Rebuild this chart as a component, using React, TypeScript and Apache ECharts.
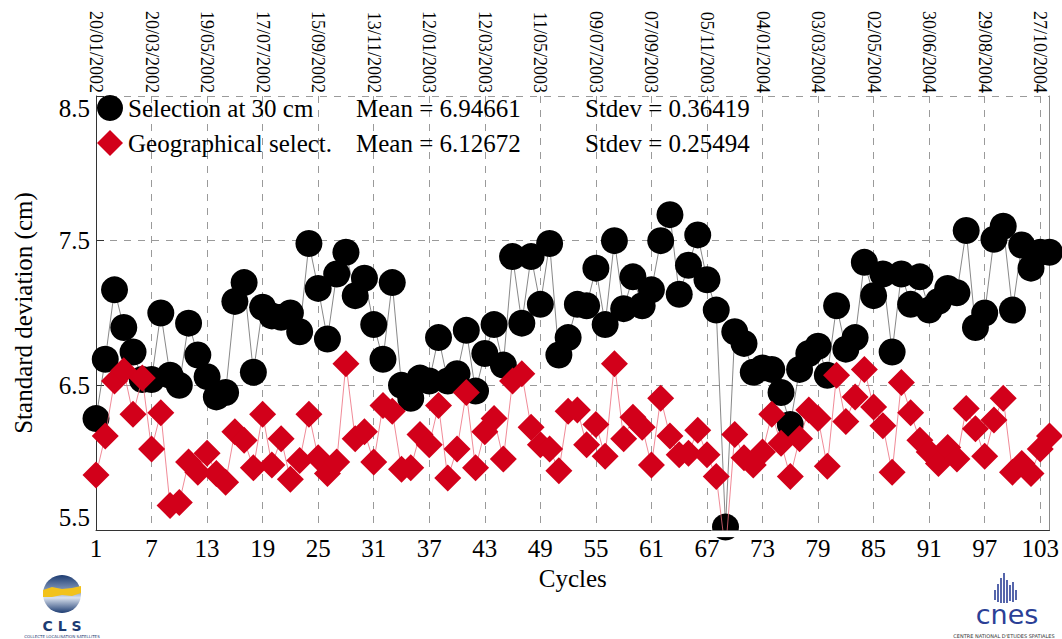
import React, { useEffect, useRef } from "react";
import * as echarts from "echarts";

const FONT = '"Liberation Serif", "Times New Roman", serif';

const seriesNames = ["Selection at 30 cm", "Geographical select."];
const means = ["6.94661", "6.12672"];
const stdevs = ["0.36419", "0.25494"];

const dateLabels = [
  "20/01/2002", "20/03/2002", "19/05/2002", "17/07/2002", "15/09/2002", "13/11/2002",
  "12/01/2003", "12/03/2003", "11/05/2003", "09/07/2003", "07/09/2003", "05/11/2003",
  "04/01/2004", "03/03/2004", "02/05/2004", "30/06/2004", "29/08/2004", "27/10/2004",
];

// cycles 1..104
const selection30 = [
  6.27, 6.68, 7.16, 6.90, 6.73, 6.54, 6.54, 7.00, 6.57, 6.50,
  6.93, 6.71, 6.56, 6.42, 6.45, 7.08, 7.21, 6.59, 7.04, 6.98,
  6.97, 7.00, 6.87, 7.48, 7.17, 6.82, 7.27, 7.42, 7.12, 7.24,
  6.92, 6.68, 7.21, 6.50, 6.41, 6.55, 6.53, 6.83, 6.53, 6.58,
  6.88, 6.46, 6.72, 6.92, 6.64, 7.39, 6.93, 7.39, 7.06, 7.48,
  6.71, 6.83, 7.06, 7.05, 7.31, 6.92, 7.50, 7.03, 7.25, 7.05,
  7.16, 7.50, 7.68, 7.13, 7.33, 7.54, 7.23, 7.02, 5.52, 6.87,
  6.79, 6.59, 6.62, 6.61, 6.45, 6.23, 6.61, 6.72, 6.77, 6.57,
  7.05, 6.75, 6.83, 7.35, 7.12, 7.27, 6.73, 7.27, 7.06, 7.25,
  7.02, 7.08, 7.17, 7.14, 7.57, 6.90, 7.00, 7.51, 7.60, 7.02,
  7.47, 7.31, 7.42, 7.42,
];

const geographical = [
  5.88, 6.15, 6.53, 6.60, 6.30, 6.55, 6.06, 6.31, 5.67, 5.69,
  5.97, 5.90, 6.03, 5.89, 5.83, 6.18, 6.12, 5.93, 6.30, 5.95,
  6.13, 5.85, 5.98, 6.30, 6.00, 5.89, 5.97, 6.65, 6.13, 6.18,
  5.97, 6.36, 6.32, 5.92, 5.93, 6.16, 6.09, 6.36, 5.86, 6.06,
  6.45, 5.93, 6.18, 6.27, 5.99, 6.53, 6.58, 6.21, 6.09, 6.06,
  5.91, 6.32, 6.33, 6.09, 6.23, 6.01, 6.65, 6.13, 6.28, 6.21,
  5.95, 6.41, 6.15, 6.02, 6.03, 6.19, 6.02, 5.87, 5.35, 6.16,
  6.00, 5.95, 6.04, 6.30, 6.10, 5.87, 6.13, 6.33, 6.27, 5.94,
  6.57, 6.25, 6.42, 6.61, 6.35, 6.22, 5.90, 6.52, 6.31, 6.12,
  6.04, 5.96, 6.07, 5.99, 6.34, 6.20, 6.01, 6.26, 6.41, 5.90,
  5.96, 5.89, 6.06, 6.15,
];

const FIRST_CYCLE = 1;
const LAST_CYCLE = 104;
const CYCLE_STEP = 6;
const Y_MIN = 5.5;
const Y_MAX = 8.5;
const SYMBOL_SIZE = 27;

const gridDash = { color: "#9a9a9a", type: [7, 7] as any, width: 1 };

export default function App() {
  const ref = useRef<HTMLDivElement>(null);

  useEffect(() => {
    document.body.style.margin = "0";
    if (!ref.current) return;
    const chart = echarts.init(ref.current, undefined, { renderer: "svg" });

    const toData = (arr: number[]) => arr.map((v, i) => [FIRST_CYCLE + i, v]);

    const logos: any[] = [
      // CLS logo
      {
        type: "circle",
        shape: { cx: 62, cy: 594, r: 19 },
        style: {
          fill: new echarts.graphic.LinearGradient(0, 0, 0, 1, [
            { offset: 0, color: "#1d3c72" },
            { offset: 0.45, color: "#8fa3c4" },
            { offset: 0.6, color: "#d9e1ee" },
            { offset: 1, color: "#1d3c72" },
          ]),
        },
      },
      {
        type: "polygon",
        shape: {
          points: [
            [43, 590], [52, 587], [62, 589], [72, 588], [81, 586],
            [81, 593], [72, 596], [62, 595], [52, 597], [43, 597],
          ],
        },
        style: { fill: "#f2c21b" },
      },
      {
        type: "text",
        x: 62,
        y: 626,
        style: {
          text: "C L S",
          fill: "#1d3c72",
          font: 'bold 14px "DejaVu Sans", sans-serif',
          textAlign: "center",
          textVerticalAlign: "middle",
        },
      },
      {
        type: "text",
        x: 62,
        y: 636,
        style: {
          text: "COLLECTE LOCALISATION SATELLITES",
          fill: "#1d3c72",
          font: '4px "DejaVu Sans", sans-serif',
          textAlign: "center",
          textVerticalAlign: "middle",
        },
      },
      // CNES logo
      ...[
        [995, 590, 600], [998, 584, 602], [1001, 578, 603], [1004, 573, 603],
        [1007, 580, 603], [1010, 585, 601], [1013, 582, 602], [1016, 590, 600],
      ].map(([x, y1, y2]) => ({
        type: "line",
        shape: { x1: x, y1, x2: x, y2 },
        style: { stroke: "#2b3f96", lineWidth: 1.6 },
      })),
      {
        type: "text",
        x: 1007,
        y: 614,
        style: {
          text: "cnes",
          fill: "#2b3f96",
          font: '27px "DejaVu Sans", sans-serif',
          textAlign: "center",
          textVerticalAlign: "middle",
        },
      },
      {
        type: "text",
        x: 1004,
        y: 636,
        style: {
          text: "CENTRE NATIONAL D'ETUDES SPATIALES",
          fill: "#333",
          font: '5px "DejaVu Sans", sans-serif',
          textAlign: "center",
          textVerticalAlign: "middle",
        },
      },
    ];

    const option: any = {
      animation: false,
      backgroundColor: "#ffffff",
      grid: { left: 96, right: 11, top: 96, bottom: 109, containLabel: false },
      legend: {
        left: 97,
        top: 95,
        padding: 0,
        orient: "vertical",
        itemWidth: 26,
        itemHeight: 26,
        itemGap: 9,
        selectedMode: false,
        data: [
          { name: seriesNames[0], icon: "circle" },
          { name: seriesNames[1], icon: "diamond" },
        ],
        formatter: (name: string) => {
          const i = seriesNames.indexOf(name);
          return `{a|${name}}{b|Mean = ${means[i]}}{c|Stdev = ${stdevs[i]}}`;
        },
        textStyle: {
          fontFamily: FONT,
          fontSize: 25,
          color: "#000",
          rich: {
            a: { width: 228, fontFamily: FONT, fontSize: 25, color: "#000" },
            b: { width: 229, fontFamily: FONT, fontSize: 25, color: "#000" },
            c: { fontFamily: FONT, fontSize: 25, color: "#000" },
          },
        },
      },
      xAxis: [
        {
          type: "value",
          position: "bottom",
          min: FIRST_CYCLE,
          max: LAST_CYCLE,
          interval: CYCLE_STEP,
          name: "Cycles",
          nameLocation: "middle",
          nameGap: 34,
          nameTextStyle: { fontFamily: FONT, fontSize: 25, color: "#000" },
          axisLine: { show: true, onZero: false, lineStyle: { color: "#333", width: 1 } },
          axisTick: { show: false },
          axisLabel: {
            fontFamily: FONT,
            fontSize: 25,
            color: "#000",
            margin: 6,
            showMaxLabel: false,
          },
          splitLine: { show: true, lineStyle: gridDash },
        },
        {
          type: "value",
          position: "top",
          min: FIRST_CYCLE,
          max: LAST_CYCLE,
          interval: CYCLE_STEP,
          axisLine: { show: false },
          axisTick: { show: false },
          splitLine: { show: false },
          axisLabel: {
            rotate: 90,
            fontFamily: FONT,
            fontSize: 18,
            color: "#000",
            margin: 3,
            showMaxLabel: false,
            formatter: (v: number) => dateLabels[Math.round((v - FIRST_CYCLE) / CYCLE_STEP)] ?? "",
          },
        },
      ],
      yAxis: [
        {
          type: "value",
          position: "left",
          min: Y_MIN,
          max: Y_MAX,
          interval: 1,
          name: "Standard deviation (cm)",
          nameLocation: "middle",
          nameGap: 60,
          nameTextStyle: { fontFamily: FONT, fontSize: 25, color: "#000" },
          axisLine: { show: true, onZero: false, lineStyle: { color: "#333", width: 1 } },
          axisTick: { show: true, inside: true, length: 8, lineStyle: { color: "#333" } },
          axisLabel: {
            fontFamily: FONT,
            fontSize: 25,
            color: "#000",
            margin: 6,
            formatter: (v: number) => v.toFixed(1),
            verticalAlignMinLabel: "bottom",
            verticalAlignMaxLabel: "top",
          },
          splitLine: { show: true, lineStyle: gridDash },
        },
        {
          type: "value",
          position: "right",
          min: Y_MIN,
          max: Y_MAX,
          interval: 1,
          axisLine: { show: true, onZero: false, lineStyle: { color: "#8a8a8a", width: 1 } },
          axisTick: { show: false },
          axisLabel: { show: false },
          splitLine: { show: false },
        },
      ],
      series: [
        {
          type: "line",
          name: seriesNames[0],
          data: toData(selection30),
          symbol: "circle",
          symbolSize: SYMBOL_SIZE,
          showAllSymbol: true,
          clip: true,
          itemStyle: { color: "#000000" },
          lineStyle: { color: "#6a6a6a", width: 0.8 },
          z: 2,
        },
        {
          type: "line",
          name: seriesNames[1],
          data: toData(geographical),
          symbol: "diamond",
          symbolSize: SYMBOL_SIZE,
          showAllSymbol: true,
          clip: true,
          itemStyle: { color: "#d2001a" },
          lineStyle: { color: "#ec6c7c", width: 0.8 },
          z: 3,
        },
      ],
      graphic: logos,
    };

    chart.setOption(option);

    // Mask the parts of markers that spill below the plot frame (clip like the original)
    const bottomPx = chart.convertToPixel({ yAxisIndex: 0 }, Y_MIN) as number;
    const masks: any[] = [];
    [selection30, geographical].forEach((arr) => {
      arr.forEach((v, i) => {
        if (v < Y_MIN) return;
        const p = chart.convertToPixel({ xAxisIndex: 0, yAxisIndex: 0 }, [FIRST_CYCLE + i, v]) as number[];
        const overflow = p[1] + SYMBOL_SIZE / 2 - bottomPx;
        if (overflow > 0) {
          masks.push({
            type: "rect",
            z: 50,
            shape: {
              x: p[0] - SYMBOL_SIZE / 2 - 1,
              y: bottomPx + 0.6,
              width: SYMBOL_SIZE + 2,
              height: Math.min(overflow + 0.5, 6.5),
            },
            style: { fill: "#ffffff" },
          });
        }
      });
    });
    if (masks.length) {
      chart.setOption({ graphic: [...logos, ...masks] }, { replaceMerge: ["graphic"] });
    }

    return () => chart.dispose();
  }, []);

  return <div ref={ref} style={{ width: 1062, height: 639 }} />;
}
